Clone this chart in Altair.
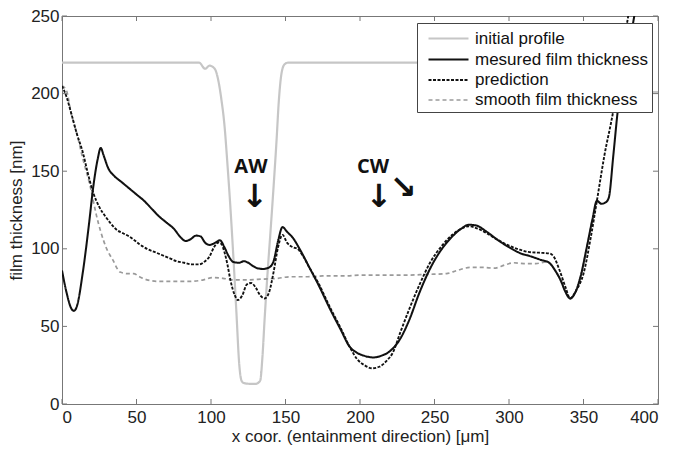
import altair as alt
import pandas as pd

SERIES = ["initial profile", "mesured film thickness", "prediction", "smooth film thickness"]
COLORS = ["#c6c6c6", "#111111", "#111111", "#9a9a9a"]
DASHES = [[1, 0], [1, 0], [3, 1.5], [4, 3]]
WIDTHS = [2.2, 1.7, 1.6, 1.6]

X_TICKS = [0, 50, 100, 150, 200, 250, 300, 350, 400]
Y_TICKS = [0, 50, 100, 150, 200, 250]

init_x = [0, 92, 96, 99, 102.5, 105, 107, 109, 111, 113, 115, 117, 119, 120.5, 122, 126, 130,
          133, 134.5, 136, 138, 140, 142, 144, 145.5, 147.5, 149.5, 152, 385, 387, 389, 400]
init_y = [220, 220, 216, 218, 216, 208, 196, 180, 155, 127, 95, 60, 25, 15, 13.5, 13, 13,
          15, 30, 55, 85, 112, 140, 170, 195, 214, 219, 220, 220, 210, 201, 201]

meas_x = [0, 3, 6, 8, 10, 14, 18, 21, 24, 26, 28, 31, 35, 40, 45, 50, 55, 60, 65, 70, 75, 80,
          83, 86, 90, 93, 96, 99, 103, 106, 109, 112, 115, 119, 122, 125, 128, 131, 135, 139,
          142, 145, 148, 151, 155, 160, 166, 172, 180, 187, 193, 198, 203, 209, 214, 220, 227,
          233, 240, 248, 255, 262, 268, 273, 278, 285, 292, 300, 308, 315, 321, 327, 331, 335,
          338, 341, 344, 348, 352, 356, 359, 362, 365, 367, 370, 373, 379, 385]
meas_y = [86, 72, 62, 60, 63, 85, 115, 140, 158, 165, 160, 152, 147, 143, 139, 135, 131, 126,
          121, 117, 113, 107, 105, 106, 108.5, 108, 104, 102.5, 104, 105.5, 101, 95, 91.5, 91,
          92, 91, 89, 87.5, 87, 88, 92, 105, 114, 111, 107, 99, 88, 77, 61, 48, 37, 33, 31, 30,
          31, 34, 42, 54, 72, 89, 100, 108, 113, 115.5, 115, 111, 106, 101, 97, 95, 93, 91, 86,
          79, 72, 68, 71, 82, 100, 119, 131, 129, 130, 133, 160, 189, 222, 255]

pred_x = [0, 3, 6, 10, 14, 17, 21, 25, 29, 33, 37, 41, 45, 48, 52, 57, 62, 67, 72, 77, 82, 87,
          92, 96, 99, 102, 105, 107, 109, 111, 113, 116, 118, 121, 124, 127, 130, 133, 136, 139,
          142, 145, 148, 151, 155, 158, 162, 166, 172, 180, 187, 193, 198, 203, 208, 213, 218,
          222, 227, 233, 240, 247, 255, 262, 268, 273, 279, 285, 292, 300, 307, 313, 320, 327,
          330, 334, 338, 341, 345, 350, 355, 359, 364, 370, 375, 380, 382]
pred_y = [205, 198, 188, 174, 162, 150, 136, 127, 121, 116, 112, 110, 108, 106, 103, 100, 98,
          96, 94, 92, 91, 90, 90, 92, 95, 101, 104, 103, 98, 90, 80, 70, 67, 70, 77, 78, 75, 70,
          68, 72, 85, 101, 109, 104, 101, 100, 95, 88, 78, 62, 49, 37, 29, 25, 23, 24, 28, 33,
          46, 61, 77, 91, 102, 109, 113, 114.5, 113, 110, 106, 102, 99.5, 98, 97.5, 97, 95, 86,
          75, 68, 73, 84, 108, 131, 160, 189, 220, 250, 262]

smooth_x = [0, 3, 6, 10, 14, 19, 23, 26, 30, 34, 39, 44, 48, 52, 57, 65, 75, 85, 95, 101, 108,
            115, 124, 135, 145, 153, 165, 175, 190, 200, 213, 230, 245, 258, 265, 274, 283, 290,
            297, 303, 310, 318, 325, 331, 335, 338, 341, 344, 348, 352, 356, 359]
smooth_y = [205, 202, 188, 174, 158, 140, 122, 111, 100, 93, 85, 84, 84, 82, 80, 79, 79, 79, 80,
            81.5, 81, 80, 80, 80.5, 81, 82, 82, 82.5, 82.5, 83, 83, 83, 83.5, 84, 86, 88, 88,
            87.5, 89.5, 91, 90.5, 90.5, 91.5, 86, 79, 72, 68, 71, 82, 100, 119, 131]

ANN_TEXT = ["AW", "CW"]
ANN_X = [126.8, 208.7]
ANN_Y = [152.4, 152.4]
ARROW_TEXT = ["↓", "↓", "↘"]
ARROW_X = [129.5, 212.8, 229.0]
ARROW_Y = [133.5, 133.5, 139.0]

W, H = 596, 388
FONT = "Liberation Sans"

xs = alt.Scale(domain=[0, 400], nice=False, zero=False)
ys = alt.Scale(domain=[0, 250], nice=False)

legend = alt.Legend(
    orient="none", legendX=355, legendY=7, title=None, symbolType="M-2,0H2",
    symbolSize=400, labelFont=FONT, labelFontSize=17, labelColor="#111111",
    fillColor="white", strokeColor="#444444", padding=4, rowPadding=1,
    labelOffset=15, symbolOffset=16, labelLimit=0,
)

x_axis = alt.Axis(values=X_TICKS, ticks=False, domain=False, grid=False, labelFont=FONT,
                  labelFontSize=17, labelColor="#222222", labelPadding=5,
                  title="x coor. (entainment direction) [μm]", titleFont=FONT,
                  titleFontSize=17, titleFontWeight="normal", titleColor="#222222",
                  titlePadding=3)
y_axis = alt.Axis(values=Y_TICKS, ticks=False, domain=False, grid=False, labelFont=FONT,
                  labelFontSize=17, labelColor="#222222", labelPadding=3,
                  title="film thickness [nm]", titleFont=FONT, titleFontSize=17,
                  titleFontWeight="normal", titleColor="#222222", titlePadding=5)


def line_layer(name, xv, yv):
    df = pd.DataFrame({"x": xv, "y": yv, "series": name})
    return alt.Chart(df).mark_line(clip=True, interpolate="monotone").encode(
        x=alt.X("x:Q", scale=xs, axis=x_axis),
        y=alt.Y("y:Q", scale=ys, axis=y_axis),
        color=alt.Color("series:N", scale=alt.Scale(domain=SERIES, range=COLORS), legend=legend),
        strokeDash=alt.StrokeDash("series:N", scale=alt.Scale(domain=SERIES, range=DASHES), legend=legend),
        strokeWidth=alt.StrokeWidth("series:N", scale=alt.Scale(domain=SERIES, range=WIDTHS), legend=legend),
    )


tick_col = "#777777"
xt = pd.DataFrame({"x": X_TICKS})
yt = pd.DataFrame({"y": Y_TICKS})
ticks_bottom = alt.Chart(xt).mark_rule(color=tick_col).encode(
    x=alt.X("x:Q", scale=xs), y=alt.value(H), y2=alt.value(H - 5))
ticks_top = alt.Chart(xt).mark_rule(color=tick_col).encode(
    x=alt.X("x:Q", scale=xs), y=alt.value(0), y2=alt.value(5))
ticks_left = alt.Chart(yt).mark_rule(color=tick_col).encode(
    y=alt.Y("y:Q", scale=ys), x=alt.value(0), x2=alt.value(5))
ticks_right = alt.Chart(yt).mark_rule(color=tick_col).encode(
    y=alt.Y("y:Q", scale=ys), x=alt.value(W), x2=alt.value(W - 5))

ann = alt.Chart(pd.DataFrame({"x": ANN_X, "y": ANN_Y, "t": ANN_TEXT})).mark_text(
    font="Open Sans", fontSize=20, fontWeight="bold", color="#111111", baseline="middle"
).encode(x=alt.X("x:Q", scale=xs), y=alt.Y("y:Q", scale=ys), text="t:N")

arrows = alt.Chart(pd.DataFrame({"x": ARROW_X, "y": ARROW_Y, "t": ARROW_TEXT})).mark_text(
    font="DejaVu Sans", fontSize=32, fontWeight="bold", color="#111111", baseline="middle"
).encode(x=alt.X("x:Q", scale=xs), y=alt.Y("y:Q", scale=ys), text="t:N")

chart = alt.layer(
    line_layer(SERIES[0], init_x, init_y),
    line_layer(SERIES[3], smooth_x, smooth_y),
    line_layer(SERIES[2], pred_x, pred_y),
    line_layer(SERIES[1], meas_x, meas_y),
    ticks_bottom, ticks_top, ticks_left, ticks_right,
    ann, arrows,
).properties(
    width=W, height=H,
    autosize=alt.AutoSizeParams(type="none"),
    padding={"left": 54, "top": 8, "right": 7, "bottom": 44},
).configure_view(stroke="#777777", strokeWidth=1)

chart.save("out.html", embed_options={"renderer": "svg", "actions": False})
